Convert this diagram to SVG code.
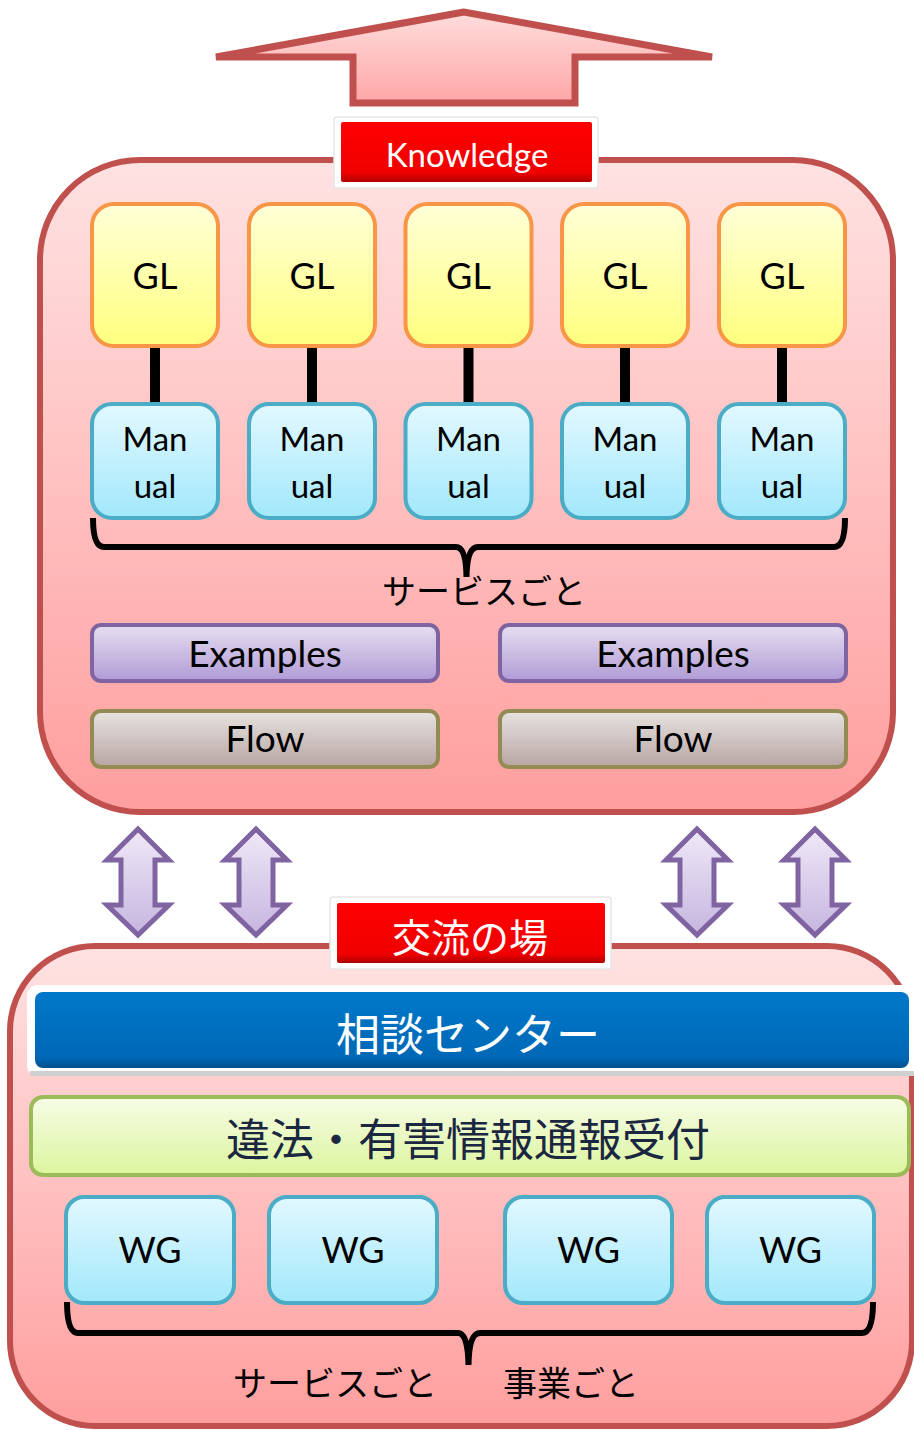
<svg xmlns="http://www.w3.org/2000/svg" width="914" height="1430" viewBox="0 0 914 1430">
<defs>
<linearGradient id="gPink" x1="0" y1="0" x2="0" y2="1"><stop offset="0" stop-color="#FFE2E2"/><stop offset="1" stop-color="#FF9E9E"/></linearGradient>
<linearGradient id="gArrow" x1="0" y1="0" x2="0" y2="1"><stop offset="0" stop-color="#FFDCDC"/><stop offset="1" stop-color="#FFA6A6"/></linearGradient>
<linearGradient id="gGL" x1="0" y1="0" x2="0" y2="1"><stop offset="0" stop-color="#FFFFD8"/><stop offset="1" stop-color="#FFFF7E"/></linearGradient>
<linearGradient id="gCyan" x1="0" y1="0" x2="0" y2="1"><stop offset="0" stop-color="#E2F8FF"/><stop offset="1" stop-color="#A2E8FB"/></linearGradient>
<linearGradient id="gEx" x1="0" y1="0" x2="0" y2="1"><stop offset="0" stop-color="#E6DEF1"/><stop offset="1" stop-color="#B09BD6"/></linearGradient>
<linearGradient id="gFlow" x1="0" y1="0" x2="0" y2="1"><stop offset="0" stop-color="#E7E3E0"/><stop offset="1" stop-color="#B7A5A3"/></linearGradient>
<linearGradient id="gGreen" x1="0" y1="0" x2="0" y2="1"><stop offset="0" stop-color="#F6FCE6"/><stop offset="1" stop-color="#DCF59E"/></linearGradient>
<linearGradient id="gBlue" x1="0" y1="0" x2="0" y2="1"><stop offset="0" stop-color="#0078CA"/><stop offset="0.85" stop-color="#0068B6"/><stop offset="1" stop-color="#00508E"/></linearGradient>
<linearGradient id="gRed" x1="0" y1="0" x2="0" y2="1"><stop offset="0" stop-color="#FF0000"/><stop offset="0.85" stop-color="#F00000"/><stop offset="1" stop-color="#B00000"/></linearGradient>
<linearGradient id="gPurple" x1="0" y1="0" x2="0" y2="1"><stop offset="0" stop-color="#EFE9F7"/><stop offset="1" stop-color="#C6B5E0"/></linearGradient>
</defs>
<style>
.lat{font-family:Lato,"Open Sans","Liberation Sans",sans-serif;}
.jp{font-family:"Noto Sans CJK JP","Noto Sans",sans-serif;}
.cont{fill:url(#gPink);stroke:#C0504D;stroke-width:6;}
.gl{fill:url(#gGL);stroke:#F79646;stroke-width:4;}
.cy{fill:url(#gCyan);stroke:#4BACC6;stroke-width:4;}
.ex{fill:url(#gEx);stroke:#8064A2;stroke-width:4;}
.fl{fill:url(#gFlow);stroke:#948A54;stroke-width:4;}
.t36{font-size:36px;fill:#000;text-anchor:middle;}
.t33{font-size:33px;fill:#000;text-anchor:middle;}
.t37{font-size:37px;fill:#000;text-anchor:middle;}
.jl{font-size:34px;fill:#000;text-anchor:middle;}
.bar{fill:#000;}
.brace{fill:none;stroke:#000;stroke-width:6;stroke-linecap:butt;}
.dbl{fill:url(#gPurple);stroke:#8064A2;stroke-width:5;stroke-linejoin:miter;stroke-miterlimit:10;}
.lblw{fill:#FFFFFF;stroke:#E6E6E6;stroke-width:1.5;}
.lblr{fill:url(#gRed);}
</style>

<g id="up-arrow">
<path d="M464,12 L216,57 L353,57 L353,103 L575,103 L575,57 L712,57 Z" fill="url(#gArrow)" stroke="#C0504D" stroke-width="7"/>
</g>

<g id="knowledge-container">
<rect class="cont" x="40" y="160" width="853" height="652" rx="100"/>
</g>

<g id="knowledge-label">
<rect class="lblw" x="334" y="117" width="264" height="71" rx="3"/>
<rect class="lblr" x="341" y="122" width="251" height="60" rx="2"/>
<text class="lat" x="467" y="167" font-size="33" fill="#FFFFFF" text-anchor="middle">Knowledge</text>
</g>

<g id="exchange-container">
<rect class="cont" x="10" y="946" width="902" height="480" rx="85"/>
</g>

<g id="connectors">
<rect class="bar" x="150" y="346" width="10" height="60"/>
<rect class="bar" x="307" y="346" width="10" height="60"/>
<rect class="bar" x="463.5" y="346" width="10" height="60"/>
<rect class="bar" x="620" y="346" width="10" height="60"/>
<rect class="bar" x="777" y="346" width="10" height="60"/>
<path class="brace" d="M93,518 Q93,547 104,547 L456,547 Q466,547 466.5,577 Q467,547 478,547 L834,547 Q845,547 845,518"/>
<path class="brace" d="M67,1302 Q67,1333 78,1333 L458,1333 Q468,1333 468.5,1365 Q469,1333 480,1333 L862,1333 Q873,1333 873,1302"/>
<path class="dbl" d="M138,829 L169,860 L155,860 L155,905 L169,905 L138,935 L107,905 L121,905 L121,860 L107,860 Z"/>
<path class="dbl" d="M256,829 L287,860 L273,860 L273,905 L287,905 L256,935 L225,905 L239,905 L239,860 L225,860 Z"/>
<path class="dbl" d="M697,829 L728,860 L714,860 L714,905 L728,905 L697,935 L666,905 L680,905 L680,860 L666,860 Z"/>
<path class="dbl" d="M815,829 L846,860 L832,860 L832,905 L846,905 L815,935 L784,905 L798,905 L798,860 L784,860 Z"/>
</g>

<g id="gl-1"><rect class="gl" x="92" y="204" width="126" height="142" rx="22"/><text class="lat t36" x="155" y="289">GL</text></g>
<g id="gl-2"><rect class="gl" x="249" y="204" width="126" height="142" rx="22"/><text class="lat t36" x="312" y="289">GL</text></g>
<g id="gl-3"><rect class="gl" x="405.5" y="204" width="126" height="142" rx="22"/><text class="lat t36" x="468.5" y="289">GL</text></g>
<g id="gl-4"><rect class="gl" x="562" y="204" width="126" height="142" rx="22"/><text class="lat t36" x="625" y="289">GL</text></g>
<g id="gl-5"><rect class="gl" x="719" y="204" width="126" height="142" rx="22"/><text class="lat t36" x="782" y="289">GL</text></g>

<g id="manual-1"><rect class="cy" x="92" y="404" width="126" height="114" rx="20"/><text class="lat t33" x="155" y="451">Man</text><text class="lat t33" x="155" y="498">ual</text></g>
<g id="manual-2"><rect class="cy" x="249" y="404" width="126" height="114" rx="20"/><text class="lat t33" x="312" y="451">Man</text><text class="lat t33" x="312" y="498">ual</text></g>
<g id="manual-3"><rect class="cy" x="405.5" y="404" width="126" height="114" rx="20"/><text class="lat t33" x="468.5" y="451">Man</text><text class="lat t33" x="468.5" y="498">ual</text></g>
<g id="manual-4"><rect class="cy" x="562" y="404" width="126" height="114" rx="20"/><text class="lat t33" x="625" y="451">Man</text><text class="lat t33" x="625" y="498">ual</text></g>
<g id="manual-5"><rect class="cy" x="719" y="404" width="126" height="114" rx="20"/><text class="lat t33" x="782" y="451">Man</text><text class="lat t33" x="782" y="498">ual</text></g>

<g id="label-service-top"><text class="jp jl" x="484" y="604">サービスごと</text></g>

<g id="examples-1"><rect class="ex" x="92" y="625" width="346" height="56" rx="9"/><text class="lat t37" x="265" y="667">Examples</text></g>
<g id="examples-2"><rect class="ex" x="500" y="625" width="346" height="56" rx="9"/><text class="lat t37" x="673" y="667">Examples</text></g>
<g id="flow-1"><rect class="fl" x="92" y="711" width="346" height="56" rx="9"/><text class="lat t37" x="265" y="752">Flow</text></g>
<g id="flow-2"><rect class="fl" x="500" y="711" width="346" height="56" rx="9"/><text class="lat t37" x="673" y="752">Flow</text></g>

<g id="exchange-label">
<rect class="lblw" x="330" y="897" width="281" height="72" rx="3"/>
<rect class="lblr" x="337" y="903" width="268" height="60" rx="2"/>
<text class="jp" x="470" y="952" font-size="39" fill="#FFFFFF" text-anchor="middle">交流の場</text>
</g>

<g id="consult-center">
<rect x="27" y="985" width="890" height="91" rx="10" fill="#FFFFFF"/>
<rect x="30" y="1071" width="884" height="5" fill="#D0D0D0"/>
<rect x="35" y="992" width="874" height="76" rx="8" fill="url(#gBlue)"/>
<text class="jp" x="468" y="1051" font-size="44" fill="#FFFFFF" text-anchor="middle">相談センター</text>
</g>

<g id="report-desk">
<rect x="31" y="1097" width="878" height="78" rx="12" fill="url(#gGreen)" stroke="#9BBB59" stroke-width="4"/>
<text class="jp" x="468" y="1156" font-size="44" fill="#1B2740" text-anchor="middle">違法・有害情報通報受付</text>
</g>

<g id="wg-1"><rect class="cy" x="66" y="1197" width="168" height="106" rx="18"/><text class="lat t36" x="150" y="1263">WG</text></g>
<g id="wg-2"><rect class="cy" x="269" y="1197" width="168" height="106" rx="18"/><text class="lat t36" x="353" y="1263">WG</text></g>
<g id="wg-3"><rect class="cy" x="505" y="1197" width="167" height="106" rx="18"/><text class="lat t36" x="588.5" y="1263">WG</text></g>
<g id="wg-4"><rect class="cy" x="707" y="1197" width="167" height="106" rx="18"/><text class="lat t36" x="790.5" y="1263">WG</text></g>

<g id="label-service-bottom"><text class="jp jl" x="335" y="1396">サービスごと</text></g>
<g id="label-business"><text class="jp jl" x="571" y="1396">事業ごと</text></g>
</svg>
